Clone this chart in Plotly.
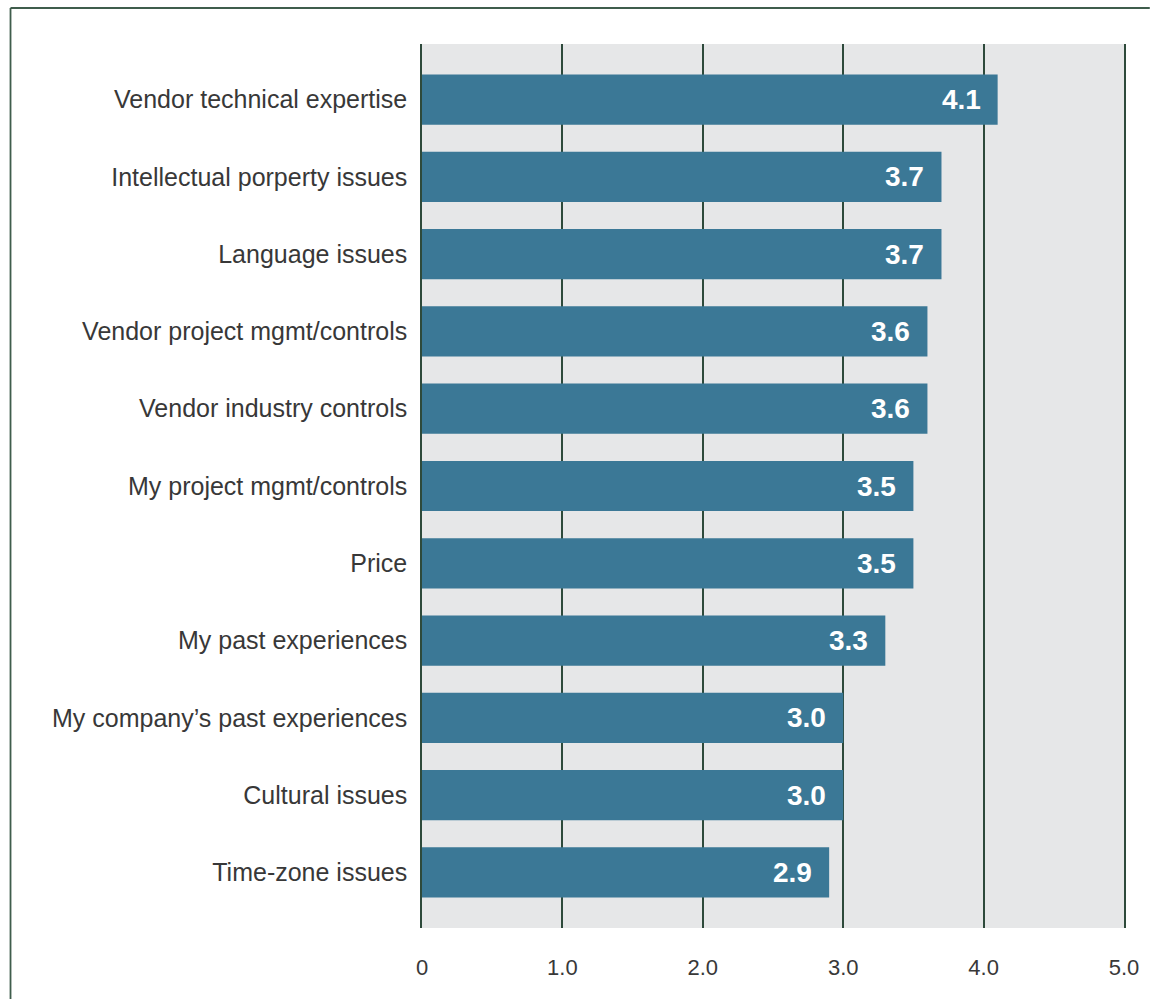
import plotly.graph_objects as go

# Survey factors (top to bottom) and their mean ratings
factors = [
    "Vendor technical expertise",
    "Intellectual porperty issues",
    "Language issues",
    "Vendor project mgmt/controls",
    "Vendor industry controls",
    "My project mgmt/controls",
    "Price",
    "My past experiences",
    "My company\u2019s past experiences",
    "Cultural issues",
    "Time-zone issues",
]
ratings = [4.1, 3.7, 3.7, 3.6, 3.6, 3.5, 3.5, 3.3, 3.0, 3.0, 2.9]
tick_vals = [0, 1, 2, 3, 4, 5]
tick_text = ["0", "1.0", "2.0", "3.0", "4.0", "5.0"]

BAR = "#3b7896"
PANEL = "#e6e7e8"
RULE = "#2e4a3b"
FRAME = "#3f5d4c"
TEXT = "#383838"
FONT = "Liberation Sans, Arial, Helvetica, sans-serif"

W, H = 1151, 999
ML, MR, MT, MB = 422, 21, 44, 71

fig = go.Figure(
    go.Bar(
        x=ratings,
        y=factors,
        orientation="h",
        marker=dict(color=BAR, line=dict(width=0)),
        width=0.65,
        hoverinfo="x+y",
    )
)

# Value labels sit inside the right end of each bar
for f, v in zip(factors, ratings):
    fig.add_annotation(
        x=v, y=f, xref="x", yref="y",
        text=f"{v:.1f}", showarrow=False,
        xanchor="right", yanchor="middle", xshift=-15,
        font=dict(family=FONT, size=28, color="white", weight="bold"),
    )

# Thin frame along the top and left of the figure
px2x = lambda p: (p - ML) / (W - ML - MR)
px2y = lambda p: 1 - (p - MT) / (H - MT - MB)
fig.add_shape(type="line", xref="paper", yref="paper",
              x0=px2x(7), x1=px2x(W + 5), y0=px2y(8), y1=px2y(8),
              line=dict(color=FRAME, width=1.8))
fig.add_shape(type="line", xref="paper", yref="paper",
              x0=px2x(7), x1=px2x(7), y0=px2y(8), y1=px2y(H + 5),
              line=dict(color=FRAME, width=1.8))

fig.update_layout(
    width=W, height=H,
    margin=dict(l=ML, r=MR, t=MT, b=MB, pad=0),
    paper_bgcolor="white",
    plot_bgcolor=PANEL,
    showlegend=False,
    bargap=0.35,
    xaxis=dict(
        range=[0, 5],
        tickvals=tick_vals, ticktext=tick_text,
        showgrid=True, gridcolor=RULE, gridwidth=1.5,
        zeroline=False, showline=False,
        ticks="", ticklabelstandoff=24,
        tickfont=dict(family=FONT, size=22, color=TEXT),
        layer="below traces",
    ),
    yaxis=dict(
        type="category",
        categoryorder="array", categoryarray=factors,
        range=[10.72, -0.72],
        showgrid=False, zeroline=False,
        showline=True, mirror=True, linecolor=RULE, linewidth=1.5,
        ticks="", ticklabelstandoff=8,
        tickfont=dict(family=FONT, size=25, color=TEXT),
    ),
)

fig.write_html("out.html")
